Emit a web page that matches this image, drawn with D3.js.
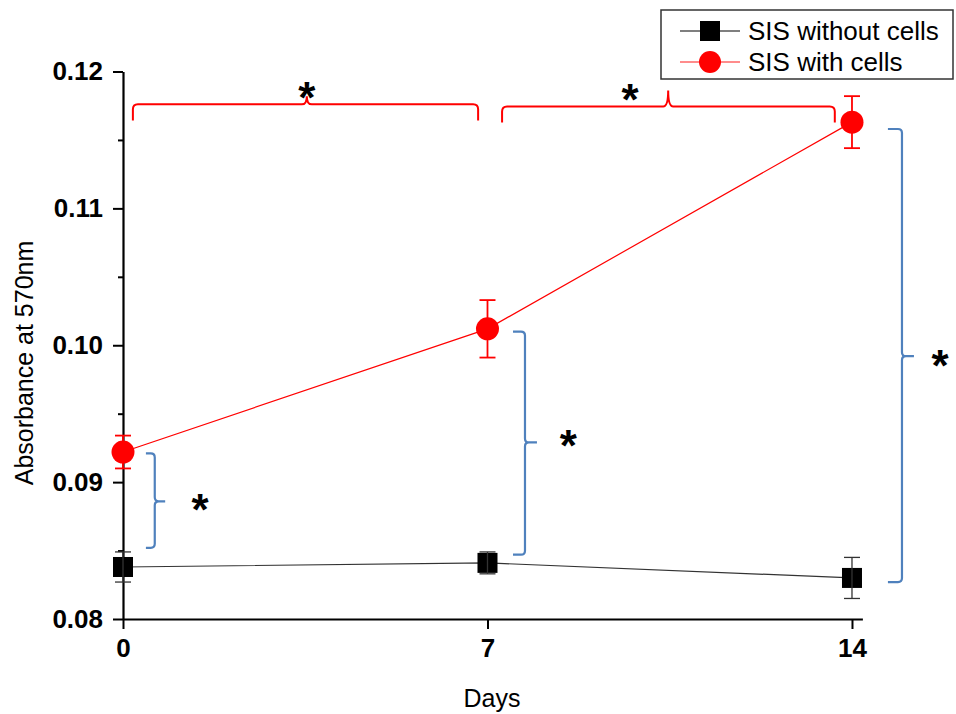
<!DOCTYPE html>
<html>
<head>
<meta charset="utf-8">
<script src="https://cdn.jsdelivr.net/npm/d3@7/dist/d3.min.js"></script>
<style>
  html, body { margin: 0; padding: 0; background: #fff; }
  svg { display: block; }
  text { font-family: Arial, "Liberation Sans", sans-serif; }
</style>
</head>
<body>
<svg id="chart" width="956" height="714"></svg>
<script>
// Days of measurement
const days = [0, 7, 14];
// Absorbance at 570 nm (mean and error)
const withoutCells = [0.0838, 0.0841, 0.0830];
const withoutCellsErr = [0.0011, 0.0008, 0.0015];
const withCells = [0.0922, 0.1012, 0.1163];
const withCellsErr = [0.0012, 0.0021, 0.0019];
// Axis ticks
const yMajorTicks = [0.08, 0.09, 0.10, 0.11, 0.12];
const yMinorTicks = [0.085, 0.095, 0.105, 0.115];
const xTicks = [0, 7, 14];
const seriesNames = ["SIS without cells", "SIS with cells"];

// Significance brackets between groups on the same day (day offsets, value span, tip value)
const dayBrackets = [
  { x1: 0.44, x2: 0.61, x3: 0.81, top: 0.0921, bottom: 0.0852, mid: 0.0886, sx: 1.48, sy: 0.0887 },
  { x1: 7.49, x2: 7.72, x3: 7.95, top: 0.1010, bottom: 0.0847, mid: 0.0929, sx: 8.55, sy: 0.0934 },
  { x1: 14.69, x2: 14.96, x3: 15.19, top: 0.1158, bottom: 0.0827, mid: 0.0992, sx: 15.69, sy: 0.0992 }
];
// Significance brackets between days for cell-seeded scaffolds
const timeBrackets = [
  { x1: 0.19, x2: 6.82, xm: 3.53, level: 0.11760, foot: 0.11642, tip: 0.11820, sx: 3.53, sy: 0.11880 },
  { x1: 7.28, x2: 13.67, xm: 10.47, level: 0.11745, foot: 0.11628, tip: 0.11862, sx: 9.74, sy: 0.11865 }
];

const svg = d3.select("#chart");

const x = d3.scaleLinear().domain([0, 14.2]).range([123, 862.4]);
const y = d3.scaleLinear().domain([0.08, 0.12]).range([619, 71.5]);

const labelFont = "Arial, 'Liberation Sans', sans-serif";

// Axes
const yAxis = svg.append("g").attr("transform", `translate(${x(0)},0)`)
  .call(d3.axisLeft(y).tickValues(yMajorTicks).tickSize(10).tickSizeOuter(0)
    .tickFormat(d3.format(".2f")).tickPadding(10));
yAxis.select(".domain").attr("stroke", "#000").attr("stroke-width", 2.2);
yAxis.selectAll(".tick line").attr("stroke", "#000").attr("stroke-width", 2);
yAxis.selectAll(".tick text").attr("font-size", 26).attr("font-weight", "bold")
  .attr("fill", "#000").attr("font-family", labelFont);

const yMinor = svg.append("g").attr("transform", `translate(${x(0)},0)`)
  .call(d3.axisLeft(y).tickValues(yMinorTicks).tickSize(5).tickSizeOuter(0).tickFormat(""));
yMinor.select(".domain").remove();
yMinor.selectAll(".tick line").attr("stroke", "#000").attr("stroke-width", 2);

const xAxis = svg.append("g").attr("transform", `translate(0,${y(0.08)})`)
  .call(d3.axisBottom(x).tickValues(xTicks).tickSize(10).tickSizeOuter(0).tickPadding(10));
xAxis.select(".domain").attr("stroke", "#000").attr("stroke-width", 2.2);
xAxis.selectAll(".tick line").attr("stroke", "#000").attr("stroke-width", 2);
xAxis.selectAll(".tick text").attr("font-size", 26).attr("font-weight", "bold")
  .attr("fill", "#000").attr("font-family", labelFont);

// Axis titles
svg.append("text").attr("x", 492).attr("y", 707).attr("text-anchor", "middle")
  .attr("font-size", 25).attr("fill", "#000").text("Days");
svg.append("text").attr("transform", "translate(33,363) rotate(-90)")
  .attr("text-anchor", "middle").attr("font-size", 25).attr("fill", "#000")
  .text("Absorbance at 570nm");

// Series lines
const line = d3.line().x((d, i) => x(days[i])).y(d => y(d));
svg.append("path").datum(withoutCells).attr("d", line)
  .attr("fill", "none").attr("stroke", "#333").attr("stroke-width", 1.2);
svg.append("path").datum(withCells).attr("d", line)
  .attr("fill", "none").attr("stroke", "#ff0000").attr("stroke-width", 1.2);

// Markers
svg.selectAll("rect.m0").data(withoutCells).join("rect").attr("class", "m0")
  .attr("x", (d, i) => x(days[i]) - 10).attr("y", d => y(d) - 10)
  .attr("width", 20).attr("height", 20).attr("fill", "#000");
svg.selectAll("circle.m1").data(withCells).join("circle").attr("class", "m1")
  .attr("cx", (d, i) => x(days[i])).attr("cy", d => y(d)).attr("r", 11.5).attr("fill", "#ff0000");

// Error bars
function errorBars(values, errs, color, width) {
  const g = svg.append("g").attr("stroke", color).attr("stroke-width", width).attr("fill", "none");
  values.forEach((v, i) => {
    const cx = x(days[i]);
    const yt = y(v + errs[i]), yb = y(v - errs[i]);
    g.append("line").attr("x1", cx).attr("x2", cx).attr("y1", yt).attr("y2", yb);
    g.append("line").attr("x1", cx - 8).attr("x2", cx + 8).attr("y1", yt).attr("y2", yt);
    g.append("line").attr("x1", cx - 8).attr("x2", cx + 8).attr("y1", yb).attr("y2", yb);
  });
}
errorBars(withoutCells, withoutCellsErr, "#333", 1.3);
errorBars(withCells, withCellsErr, "#ff0000", 1.8);

// Significance asterisk centred on a point
function star(cx, cy) {
  svg.append("text").attr("x", cx).attr("y", cy + 25).attr("text-anchor", "middle")
    .attr("font-size", 44).attr("font-weight", "bold").attr("fill", "#000").text("*");
}

// Vertical curly brackets
const blue = "#4f81bd";
dayBrackets.forEach(b => {
  const x1 = x(b.x1), x2 = x(b.x2), x3 = x(b.x3);
  const y1 = y(b.top), y2 = y(b.bottom), ym = y(b.mid);
  const r = 4;
  const p = d3.path();
  p.moveTo(x1, y1);
  p.lineTo(x2 - r, y1);
  p.quadraticCurveTo(x2, y1, x2, y1 + r);
  p.lineTo(x2, ym - r);
  p.quadraticCurveTo(x2, ym, x2 + r, ym);
  p.lineTo(x3, ym);
  p.moveTo(x2 + r, ym);
  p.quadraticCurveTo(x2, ym, x2, ym + r);
  p.lineTo(x2, y2 - r);
  p.quadraticCurveTo(x2, y2, x2 - r, y2);
  p.lineTo(x1, y2);
  svg.append("path").attr("d", p.toString()).attr("fill", "none")
    .attr("stroke", blue).attr("stroke-width", 2.2);
  star(x(b.sx), y(b.sy));
});

// Horizontal curly brackets
timeBrackets.forEach(b => {
  const x1 = x(b.x1), x2 = x(b.x2), xm = x(b.xm);
  const yl = y(b.level), yf = y(b.foot), yt = y(b.tip);
  const r = 5;
  const p = d3.path();
  p.moveTo(x1, yf);
  p.lineTo(x1, yl + r);
  p.quadraticCurveTo(x1, yl, x1 + r, yl);
  p.lineTo(xm - r, yl);
  p.quadraticCurveTo(xm, yl, xm, yt);
  p.quadraticCurveTo(xm, yl, xm + r, yl);
  p.lineTo(x2 - r, yl);
  p.quadraticCurveTo(x2, yl, x2, yl + r);
  p.lineTo(x2, yf);
  svg.append("path").attr("d", p.toString()).attr("fill", "none")
    .attr("stroke", "#ff0000").attr("stroke-width", 2);
  star(x(b.sx), y(b.sy));
});

// Legend
const legend = svg.append("g");
legend.append("rect").attr("x", 661).attr("y", 10).attr("width", 292).attr("height", 69)
  .attr("fill", "#fff").attr("stroke", "#333").attr("stroke-width", 1.5);
const rows = [31, 62];
legend.append("line").attr("x1", 680).attr("x2", 740).attr("y1", rows[0]).attr("y2", rows[0])
  .attr("stroke", "#555").attr("stroke-width", 1.5);
legend.append("rect").attr("x", 700).attr("y", rows[0] - 10).attr("width", 20).attr("height", 20).attr("fill", "#000");
legend.append("line").attr("x1", 680).attr("x2", 740).attr("y1", rows[1]).attr("y2", rows[1])
  .attr("stroke", "#ff6666").attr("stroke-width", 1.5);
legend.append("circle").attr("cx", 710).attr("cy", rows[1]).attr("r", 11).attr("fill", "#ff0000");
seriesNames.forEach((name, i) => {
  legend.append("text").attr("x", 748).attr("y", rows[i] + 9).attr("font-size", 26)
    .attr("fill", "#000").text(name);
});
</script>
</body>
</html>
